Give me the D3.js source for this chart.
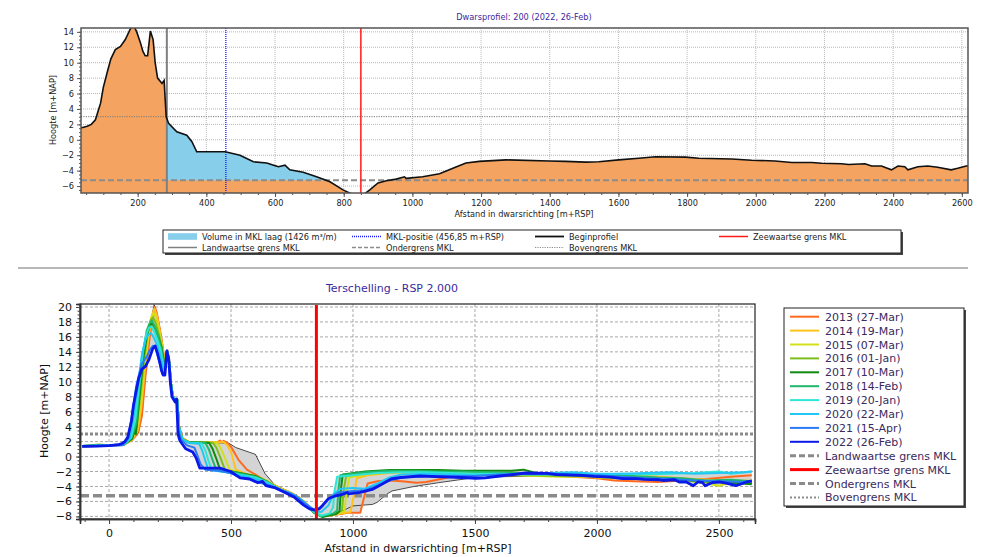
<!DOCTYPE html>
<html>
<head>
<meta charset="utf-8">
<script src="https://cdn.jsdelivr.net/npm/d3@7"></script>
<style>
body { margin: 0; background: #fff; }
svg { font-family: "DejaVu Sans", Verdana, sans-serif; }
</style>
</head>
<body>
<svg id="chart" width="986" height="557"></svg>
<script>
// ---- data ----
var titelBoven = "Dwarsprofiel: 200 (2022, 26-Feb)";
var titelOnder = "Terschelling - RSP 2.000";
var xTicksBoven = [200, 400, 600, 800, 1000, 1200, 1400, 1600, 1800, 2000, 2200, 2400, 2600];
var yTicksBoven = [-6, -4, -2, 0, 2, 4, 6, 8, 10, 12, 14];
var xTicksOnder = [0, 500, 1000, 1500, 2000, 2500];
var yTicksOnder = [-8, -6, -4, -2, 0, 2, 4, 6, 8, 10, 12, 14, 16, 18, 20];

var landwaartseGrens = 285;
var zeewaartseGrens = 850;
var mklPositie = 456.85;
var ondergrens = -5.25;
var bovengrens = 3;

var jaren = ["2013 (27-Mar)", "2014 (19-Mar)", "2015 (07-Mar)", "2016 (01-Jan)", "2017 (10-Mar)",
             "2018 (14-Feb)", "2019 (20-Jan)", "2020 (22-Mar)", "2021 (15-Apr)", "2022 (26-Feb)"];
var kleuren = ["#ff6a1f", "#ffc21a", "#d2e01a", "#7dbe1e", "#118a11",
               "#1fb86a", "#2ee6d6", "#22c8f5", "#2a7bf5", "#0a18e8"];

var profiel2013 = [[-110,1.35],[0,1.5],[60,1.55],[95,2.2],[120,3.2],[135,5.5],[150,11],[165,15.5],[178,18.5],[188,20.0],[196,19.2],[205,17.6],[215,15.8],[226,13.3],[232,13.4],[240,14.2],[248,12.5],[254,9.8],[262,8.0],[274,7.5],[280,7.6],[287,4.0],[300,2.5],[330,1.9],[440,1.85],[455,2.15],[462,1.9],[470,2.1],[485,1.8],[500,1.3],[530,-0.4],[565,-1.75],[600,-2.4],[640,-3.2],[700,-4.3],[750,-5.0],[800,-6.1],[840,-7.5],[875,-8.0],[920,-7.8],[980,-7.5],[1030,-7.5],[1045,-5.5],[1060,-3.6],[1100,-3.3],[1150,-3.2],[1200,-3.3],[1260,-3.5],[1300,-3.4],[1360,-3.0],[1400,-2.7],[1500,-2.5],[1600,-2.4],[1700,-2.4],[1800,-2.5],[1900,-2.7],[2000,-2.9],[2070,-3.2],[2150,-3.3],[2250,-3.4],[2350,-3.2],[2450,-3.0],[2550,-2.7],[2635,-2.5]];
var profiel2014 = [[-110,1.35],[0,1.5],[60,1.55],[95,2.3],[118,3.5],[132,6.5],[148,12],[162,16],[175,18.8],[186,19.8],[195,19.0],[205,17.3],[216,15.3],[226,13.0],[233,13.2],[240,14.1],[248,12.4],[254,9.8],[262,8.0],[274,7.5],[280,7.6],[287,4.0],[300,2.5],[330,1.9],[450,1.9],[470,1.95],[485,1.5],[500,0.6],[520,-1.75],[560,-2.3],[600,-2.6],[650,-3.3],[700,-4.2],[750,-4.9],[800,-6.0],[840,-7.4],[875,-8.0],[930,-7.7],[990,-7.4],[1005,-5.0],[1015,-2.9],[1060,-2.5],[1150,-2.2],[1250,-2.1],[1350,-2.2],[1450,-2.3],[1550,-2.4],[1650,-2.3],[1750,-2.4],[1850,-2.6],[1950,-2.5],[2050,-2.7],[2150,-2.5],[2250,-2.7],[2350,-2.9],[2450,-3.1],[2550,-3.3],[2635,-3.2]];
var profiel2015 = [[-110,1.4],[0,1.5],[60,1.6],[95,2.3],[115,3.8],[130,7],[146,12.5],[160,16.2],[172,18.5],[183,19.2],[193,18.5],[204,17],[216,15],[226,12.8],[233,13],[240,14.1],[248,12.4],[254,9.8],[262,8.0],[274,7.5],[280,7.6],[287,4.0],[300,2.4],[330,1.9],[440,1.85],[455,1.3],[470,0.2],[495,-1.75],[540,-2.2],[600,-2.7],[650,-3.3],[700,-4.4],[750,-5.0],[800,-6.1],[840,-7.5],[875,-8.0],[930,-7.7],[965,-7.3],[975,-4.5],[985,-2.8],[1050,-2.4],[1150,-2.1],[1250,-2.0],[1350,-2.1],[1450,-2.2],[1550,-2.5],[1650,-2.5],[1750,-2.6],[1850,-2.7],[1950,-2.7],[2050,-2.9],[2150,-2.8],[2250,-3.0],[2350,-3.1],[2450,-3.6],[2500,-3.9],[2550,-3.5],[2635,-3.3]];
var profiel2016 = [[-110,1.4],[-40,1.6],[0,1.5],[60,1.6],[95,2.4],[112,4],[128,8],[144,13],[158,16.5],[170,18.2],[180,18.6],[190,18.0],[203,16.5],[216,14.8],[226,12.6],[233,12.8],[240,14.0],[248,12.3],[254,9.8],[262,8.0],[274,7.5],[280,7.6],[287,4.0],[300,2.4],[330,1.9],[425,1.85],[440,1.2],[455,0.0],[475,-1.75],[530,-2.2],[600,-2.8],[650,-3.4],[700,-4.4],[750,-5.0],[800,-6.1],[840,-7.5],[875,-8.0],[930,-7.6],[955,-7.2],[962,-4.5],[972,-2.6],[1050,-2.2],[1150,-2.0],[1250,-1.9],[1350,-2.0],[1450,-2.0],[1550,-2.2],[1650,-2.3],[1750,-2.5],[1850,-2.6],[1950,-2.6],[2050,-2.8],[2150,-2.9],[2250,-3.0],[2350,-3.2],[2450,-3.4],[2550,-3.5],[2635,-3.4]];
var profiel2017 = [[-110,1.4],[0,1.5],[60,1.6],[95,2.4],[105,3.5],[110,3.0],[115,4.5],[126,8.5],[142,13.5],[156,16.3],[168,17.6],[178,17.8],[188,17.2],[202,16.0],[215,14.6],[226,12.5],[233,12.7],[240,14.0],[248,12.3],[254,9.8],[262,8.0],[274,7.5],[280,7.6],[287,4.0],[300,2.3],[330,1.9],[410,1.85],[425,1.0],[440,-0.3],[455,-1.75],[520,-2.1],[600,-2.6],[650,-3.4],[700,-4.4],[750,-5.0],[800,-6.1],[840,-7.5],[875,-8.1],[930,-7.7],[945,-7.3],[950,-4.5],[958,-2.4],[1050,-2.0],[1150,-1.8],[1250,-1.8],[1350,-1.8],[1450,-1.9],[1550,-1.9],[1650,-1.9],[1700,-1.75],[1750,-2.2],[1850,-2.4],[1950,-2.5],[2050,-2.6],[2150,-2.8],[2250,-3.0],[2350,-3.1],[2450,-3.3],[2550,-3.5],[2635,-3.7]];
var profiel2018 = [[-110,1.4],[0,1.5],[60,1.6],[92,2.5],[112,4.5],[124,8.8],[140,14],[154,16.8],[166,17.8],[176,18.2],[186,17.5],[200,16.2],[214,14.4],[225,12.3],[233,12.5],[240,14.0],[248,12.3],[254,9.8],[262,8.0],[274,7.5],[280,7.6],[287,4.0],[300,2.3],[330,1.9],[395,1.8],[410,0.9],[425,-0.5],[439,-1.75],[510,-2.1],[600,-2.7],[650,-3.4],[700,-4.4],[750,-5.0],[800,-6.1],[840,-7.5],[870,-8.0],[920,-7.6],[935,-7.2],[940,-4.5],[948,-2.5],[1050,-2.1],[1150,-1.9],[1250,-1.9],[1350,-2.0],[1450,-2.0],[1550,-2.1],[1650,-2.2],[1750,-2.3],[1850,-2.4],[1950,-2.5],[2050,-2.6],[2150,-2.6],[2250,-2.8],[2350,-2.9],[2450,-3.2],[2550,-3.1],[2635,-3.3]];
var profiel2019 = [[-110,1.4],[0,1.5],[60,1.6],[90,2.5],[108,5],[122,9],[138,14],[152,16.3],[164,17.2],[174,17.4],[184,16.8],[198,15.6],[212,14.2],[224,12.0],[232,12.2],[240,14.0],[248,12.3],[254,9.8],[262,8.0],[274,7.5],[280,7.6],[287,4.0],[300,2.3],[330,1.85],[380,1.75],[395,0.8],[408,-0.6],[421,-1.75],[500,-2.2],[600,-2.8],[650,-3.5],[700,-4.4],[750,-5.0],[800,-6.1],[840,-7.4],[870,-7.9],[905,-7.6],[918,-6.8],[925,-4.5],[935,-2.7],[1000,-2.5],[1100,-2.2],[1200,-2.1],[1300,-2.1],[1400,-2.2],[1500,-2.3],[1600,-2.3],[1700,-2.4],[1800,-2.4],[1900,-2.3],[2000,-2.4],[2100,-2.3],[2200,-2.4],[2300,-2.3],[2400,-2.2],[2500,-2.0],[2550,-2.3],[2635,-2.0]];
var profiel2020 = [[-110,1.4],[0,1.5],[60,1.55],[85,2.4],[102,5.5],[118,9.5],[134,13.5],[150,15.7],[162,16.3],[172,16.5],[182,16.0],[196,15.0],[210,13.6],[222,11.6],[231,11.8],[239,14.1],[247,12.5],[253,9.8],[261,8.0],[273,7.5],[279,7.6],[286,3.8],[300,2.3],[330,1.8],[370,1.7],[383,0.7],[395,-0.6],[407,-1.75],[480,-2.1],[550,-2.6],[600,-3.0],[650,-3.6],[700,-4.4],[750,-5.0],[800,-6.1],[840,-7.3],[870,-7.4],[900,-6.5],[920,-5.0],[950,-4.3],[1000,-4.2],[1050,-4.3],[1100,-3.6],[1150,-2.8],[1200,-2.4],[1300,-2.3],[1400,-2.4],[1500,-2.5],[1600,-2.4],[1700,-2.3],[1800,-2.2],[1900,-2.1],[2000,-2.3],[2100,-2.3],[2200,-2.2],[2300,-2.1],[2400,-2.3],[2500,-2.2],[2600,-2.1],[2635,-2.0]];
var profiel2021 = [[-110,1.35],[0,1.45],[55,1.5],[78,2.4],[94,5.5],[112,9.5],[134,12.4],[152,13.2],[168,14.3],[180,14.8],[190,14.6],[205,12.8],[219,11.0],[228,11.1],[237,14.2],[245,13.0],[251,10.0],[259,8.0],[271,7.4],[277,7.6],[284,3.5],[295,2.3],[320,1.5],[350,1.2],[362,0.2],[375,-1.0],[395,-1.75],[450,-1.9],[500,-2.2],[540,-2.8],[580,-3.0],[620,-3.5],[660,-3.9],[700,-4.4],[740,-4.9],[770,-5.4],[800,-6.2],[840,-7.1],[870,-6.8],[900,-5.7],[940,-4.8],[1000,-4.6],[1050,-4.5],[1100,-3.9],[1150,-3.2],[1200,-2.8],[1300,-2.6],[1400,-2.6],[1500,-2.6],[1600,-2.4],[1700,-2.3],[1800,-2.3],[1900,-2.5],[2000,-2.5],[2100,-2.7],[2200,-2.9],[2300,-3.0],[2400,-3.2],[2500,-3.3],[2600,-3.4],[2635,-3.2]];
var profiel2022 = [[-110,1.35],[-50,1.4],[0,1.45],[40,1.6],[53,1.75],[65,2.0],[77,2.6],[92,4.75],[100,6.8],[111,8.7],[122,10.5],[135,11.7],[150,12.1],[164,13.0],[179,14.4],[189,14.8],[198,13.9],[208,12.6],[215,11.5],[222,10.9],[229,10.9],[237,14.1],[245,13.0],[251,10.0],[258,8.0],[271,7.3],[277,7.7],[283,3.0],[290,2.15],[314,1.05],[343,0.6],[358,-0.25],[372,-1.55],[455,-1.55],[498,-2.0],[537,-2.85],[576,-3.0],[596,-3.3],[610,-3.5],[629,-3.3],[643,-3.9],[682,-4.2],[721,-4.8],[760,-5.45],[798,-6.5],[822,-7.0],[845,-7.15],[861,-7.0],[876,-6.5],[900,-5.6],[924,-5.3],[953,-5.1],[977,-4.8],[982,-5.0],[1030,-4.8],[1079,-4.4],[1118,-3.7],[1156,-3.0],[1195,-2.8],[1273,-2.6],[1398,-2.75],[1446,-2.8],[1505,-2.9],[1543,-2.85],[1601,-2.6],[1659,-2.4],[1708,-2.2],[1795,-2.25],[1834,-2.4],[1930,-2.5],[1988,-2.65],[2056,-2.75],[2105,-2.95],[2163,-2.95],[2192,-3.05],[2250,-3.1],[2270,-3.2],[2318,-3.1],[2337,-3.4],[2366,-3.4],[2395,-3.9],[2414,-3.4],[2434,-3.5],[2443,-3.9],[2472,-3.5],[2501,-3.4],[2530,-3.55],[2569,-3.9],[2588,-3.7],[2613,-3.4],[2635,-3.3]];
var referentie = [[-110,1.4],[0,1.5],[60,1.6],[95,2.2],[120,3.2],[135,5.5],[150,11],[165,15.8],[177,19],[185,20.3],[195,19.3],[205,17.8],[215,15.8],[226,13.4],[240,14.2],[248,12.5],[254,9.8],[262,8.0],[274,7.5],[280,7.6],[287,4.0],[300,2.5],[330,1.9],[490,1.8],[520,1.2],[600,0.3],[620,-1.0],[640,-2.3],[680,-3.8],[740,-4.7],[780,-5.4],[820,-6.6],[860,-7.8],[890,-8.0],[940,-7.6],[980,-6.9],[1000,-6.6],[1040,-6.5],[1080,-6.4],[1100,-6.1],[1140,-5.0],[1160,-4.6],[1250,-4.0],[1350,-3.5],[1480,-2.9],[1600,-2.7],[1800,-2.6],[2000,-2.8],[2200,-3.0],[2400,-3.3],[2600,-3.6],[2635,-3.6]];

var profielen = [profiel2013, profiel2014, profiel2015, profiel2016, profiel2017,
                 profiel2018, profiel2019, profiel2020, profiel2021, profiel2022];

var svg = d3.select("#chart");
var tekstKleur = "#3c2aa0";
var fmt = d3.format("d");

// ================= top chart =================
var tb = {left: 81, right: 968, top: 28, bottom: 193};
var xT = d3.scaleLinear().domain([35, 2618]).range([tb.left, tb.right]);
var yT = d3.scaleLinear().domain([-6.9, 14.5]).range([tb.bottom, tb.top]);

svg.append("text").attr("x", 524).attr("y", 20).attr("text-anchor", "middle")
  .attr("fill", tekstKleur).style("font-size", "8.2px").text(titelBoven);

var defs = svg.append("defs");
defs.append("clipPath").attr("id", "clipT").append("rect")
  .attr("x", tb.left).attr("y", tb.top).attr("width", tb.right - tb.left).attr("height", tb.bottom - tb.top);
defs.append("clipPath").attr("id", "clipMKL").append("rect")
  .attr("x", xT(landwaartseGrens)).attr("y", tb.top)
  .attr("width", xT(zeewaartseGrens) - xT(landwaartseGrens)).attr("height", tb.bottom - tb.top);

var gT = svg.append("g");
// grid
gT.selectAll(".gx").data(xTicksBoven).join("line")
  .attr("x1", d => xT(d)).attr("x2", d => xT(d)).attr("y1", tb.top).attr("y2", tb.bottom)
  .attr("stroke", "#b8b8b8").attr("stroke-dasharray", "1,1");
gT.selectAll(".gy").data(yTicksBoven).join("line")
  .attr("x1", tb.left).attr("x2", tb.right).attr("y1", d => yT(d)).attr("y2", d => yT(d))
  .attr("stroke", "#b8b8b8").attr("stroke-dasharray", "1,1");

var plotT = gT.append("g").attr("clip-path", "url(#clipT)");
plotT.append("path").datum(profiel2022)
  .attr("fill", "#f4a460")
  .attr("d", d3.area().x(d => xT(d[0])).y0(tb.bottom).y1(d => yT(d[1])));
plotT.append("g").attr("clip-path", "url(#clipMKL)").append("path").datum(profiel2022)
  .attr("fill", "#87ceeb")
  .attr("d", d3.area().x(d => xT(d[0])).y0(yT(ondergrens)).y1(d => yT(Math.max(d[1], ondergrens))));
plotT.append("line").attr("x1", tb.left).attr("x2", tb.right)
  .attr("y1", yT(bovengrens)).attr("y2", yT(bovengrens))
  .attr("stroke", "#7a7a7a").attr("stroke-width", 1).attr("stroke-dasharray", "1.2,1.2");
plotT.append("line").attr("x1", tb.left).attr("x2", tb.right)
  .attr("y1", yT(ondergrens)).attr("y2", yT(ondergrens))
  .attr("stroke", "#8c8c8c").attr("stroke-width", 2).attr("stroke-dasharray", "6,3");
plotT.append("line").attr("x1", xT(landwaartseGrens)).attr("x2", xT(landwaartseGrens))
  .attr("y1", tb.top).attr("y2", tb.bottom).attr("stroke", "#808080").attr("stroke-width", 2);
plotT.append("line").attr("x1", xT(mklPositie)).attr("x2", xT(mklPositie))
  .attr("y1", tb.top).attr("y2", tb.bottom).attr("stroke", "#1a1aff").attr("stroke-width", 1.3)
  .attr("stroke-dasharray", "1,1");
plotT.append("path").datum(profiel2022)
  .attr("fill", "none").attr("stroke", "#111").attr("stroke-width", 1.6)
  .attr("d", d3.line().x(d => xT(d[0])).y(d => yT(d[1])));
plotT.append("line").attr("x1", xT(zeewaartseGrens)).attr("x2", xT(zeewaartseGrens))
  .attr("y1", tb.top).attr("y2", tb.bottom).attr("stroke", "#ff1a1a").attr("stroke-width", 1.5);

gT.append("rect").attr("x", tb.left).attr("y", tb.top)
  .attr("width", tb.right - tb.left).attr("height", tb.bottom - tb.top)
  .attr("fill", "none").attr("stroke", "#555").attr("stroke-width", 1.5);

// axes
var axT = gT.append("g").attr("transform", "translate(0," + tb.bottom + ")")
  .call(d3.axisBottom(xT).tickValues(xTicksBoven).tickFormat(fmt).tickSize(4).tickPadding(3));
var axTm = gT.append("g").attr("transform", "translate(0," + tb.bottom + ")")
  .call(d3.axisBottom(xT).tickValues(d3.range(50, 2618, 50)).tickSize(2).tickFormat(""));
var ayT = gT.append("g").attr("transform", "translate(" + tb.left + ",0)")
  .call(d3.axisLeft(yT).tickValues(yTicksBoven).tickFormat(fmt).tickSize(4).tickPadding(3));
var ayTm = gT.append("g").attr("transform", "translate(" + tb.left + ",0)")
  .call(d3.axisLeft(yT).tickValues(d3.range(-6.5, 14.5, 0.5)).tickSize(2).tickFormat(""));
[axT, axTm, ayT, ayTm].forEach(function(a) {
  a.select(".domain").remove();
  a.selectAll("line").attr("stroke", "#555");
  a.selectAll("text").style("font-size", "8.2px").style("font-family", "DejaVu Sans").attr("fill", "#222");
});

svg.append("text").attr("x", 524).attr("y", 217).attr("text-anchor", "middle")
  .style("font-size", "8.2px").attr("fill", "#222").text("Afstand in dwarsrichting [m+RSP]");
svg.append("text").attr("transform", "translate(56,110) rotate(-90)").attr("text-anchor", "middle")
  .style("font-size", "8.2px").attr("fill", "#222").text("Hoogte [m+NAP]");

// top legend
var lgT = svg.append("g");
lgT.append("rect").attr("x", 165).attr("y", 232).attr("width", 738).attr("height", 23).attr("fill", "#444");
lgT.append("rect").attr("x", 163).attr("y", 230).attr("width", 738).attr("height", 23)
  .attr("fill", "#fff").attr("stroke", "#222");
var legItemsT = [
  {t: "Volume in MKL laag (1426 m\u00b3/m)", c: 0, r: 0, type: "fill", color: "#87ceeb"},
  {t: "MKL-positie (456,85 m+RSP)", c: 1, r: 0, color: "#1a1aff", w: 1.3, dash: "1,1"},
  {t: "Beginprofiel", c: 2, r: 0, color: "#111", w: 1.8},
  {t: "Zeewaartse grens MKL", c: 3, r: 0, color: "#ff1a1a", w: 1.5},
  {t: "Landwaartse grens MKL", c: 0, r: 1, color: "#808080", w: 1.5},
  {t: "Ondergrens MKL", c: 1, r: 1, color: "#8c8c8c", w: 1.5, dash: "4,2"},
  {t: "Bovengrens MKL", c: 2, r: 1, color: "#8c8c8c", w: 1, dash: "1.2,1.2"}
];
var colX = [168, 352, 535, 719];
legItemsT.forEach(function(it) {
  var x0 = colX[it.c], yy = 236.5 + it.r * 11;
  if (it.type === "fill") {
    lgT.append("rect").attr("x", x0).attr("y", yy - 3.3).attr("width", 29).attr("height", 6.6).attr("fill", it.color);
  } else {
    lgT.append("line").attr("x1", x0).attr("x2", x0 + 29).attr("y1", yy).attr("y2", yy)
      .attr("stroke", it.color).attr("stroke-width", it.w).attr("stroke-dasharray", it.dash || null);
  }
  lgT.append("text").attr("x", x0 + 34).attr("y", yy + 3).style("font-size", "8.2px")
    .attr("fill", "#222").text(it.t);
});

// separator
svg.append("line").attr("x1", 18).attr("x2", 968).attr("y1", 268).attr("y2", 268)
  .attr("stroke", "#a0a0a0").attr("stroke-width", 1.5);

// ================= bottom chart =================
var bb = {left: 80, right: 755, top: 304, bottom: 519};
var xB = d3.scaleLinear().domain([-119, 2648]).range([bb.left, bb.right]);
var yB = d3.scaleLinear().domain([-8.35, 20.4]).range([bb.bottom, bb.top]);

svg.append("text").attr("x", 392).attr("y", 292).attr("text-anchor", "middle")
  .attr("fill", tekstKleur).style("font-size", "11px").text(titelOnder);

defs.append("clipPath").attr("id", "clipB").append("rect")
  .attr("x", bb.left).attr("y", bb.top).attr("width", bb.right - bb.left).attr("height", bb.bottom - bb.top);

var gB = svg.append("g");
gB.selectAll(".gx").data(xTicksOnder).join("line")
  .attr("x1", d => xB(d)).attr("x2", d => xB(d)).attr("y1", bb.top).attr("y2", bb.bottom)
  .attr("stroke", "#a8a8a8").attr("stroke-dasharray", "3,2");
gB.selectAll(".gy").data(yTicksOnder).join("line")
  .attr("x1", bb.left).attr("x2", bb.right).attr("y1", d => yB(d)).attr("y2", d => yB(d))
  .attr("stroke", "#a8a8a8").attr("stroke-dasharray", "3,2");

var plotB = gB.append("g").attr("clip-path", "url(#clipB)");

// grey band: envelope of all profiles
var alle = profielen.concat([referentie]);
var interp = alle.map(function(p) {
  return d3.scaleLinear().domain(p.map(d => d[0])).range(p.map(d => d[1])).clamp(true);
});
var band = d3.range(-110, 2636, 2).map(function(x) {
  var v = interp.map(f => f(x));
  return [x, d3.min(v), d3.max(v)];
});
plotB.append("path").datum(band).attr("fill", "#d4d4d4")
  .attr("d", d3.area().x(d => xB(d[0])).y0(d => yB(d[1])).y1(d => yB(d[2])));
plotB.append("path").datum(referentie).attr("fill", "none").attr("stroke", "#222").attr("stroke-width", 0.8)
  .attr("d", d3.line().x(d => xB(d[0])).y(d => yB(d[1])));

plotB.append("line").attr("x1", bb.left).attr("x2", bb.right)
  .attr("y1", yB(bovengrens)).attr("y2", yB(bovengrens))
  .attr("stroke", "#8a8a8a").attr("stroke-width", 3).attr("stroke-dasharray", "3,2");
plotB.append("line").attr("x1", bb.left).attr("x2", bb.right)
  .attr("y1", yB(ondergrens)).attr("y2", yB(ondergrens))
  .attr("stroke", "#8a8a8a").attr("stroke-width", 3.5).attr("stroke-dasharray", "9,4");

var lijn = d3.line().x(d => xB(d[0])).y(d => yB(d[1]));
plotB.selectAll(".prof").data(profielen).join("path")
  .attr("fill", "none")
  .attr("stroke", (d, i) => kleuren[i])
  .attr("stroke-width", (d, i) => i === 9 ? 2.8 : 2)
  .attr("stroke-linejoin", "round")
  .attr("d", lijn);

plotB.append("line").attr("x1", xB(zeewaartseGrens)).attr("x2", xB(zeewaartseGrens))
  .attr("y1", bb.top + 1).attr("y2", bb.bottom).attr("stroke", "#ff0000").attr("stroke-width", 3);

gB.append("rect").attr("x", bb.left).attr("y", bb.top)
  .attr("width", bb.right - bb.left).attr("height", bb.bottom - bb.top)
  .attr("fill", "none").attr("stroke", "#222").attr("stroke-width", 1.2);

var axB = gB.append("g").attr("transform", "translate(0," + bb.bottom + ")")
  .call(d3.axisBottom(xB).tickValues(xTicksOnder).tickFormat(fmt).tickSize(5).tickPadding(5));
var axBm = gB.append("g").attr("transform", "translate(0," + bb.bottom + ")")
  .call(d3.axisBottom(xB).tickValues(d3.range(-100, 2648, 100)).tickSize(3).tickFormat(""));
var ayB = gB.append("g").attr("transform", "translate(" + bb.left + ",0)")
  .call(d3.axisLeft(yB).tickValues(yTicksOnder).tickFormat(fmt).tickSize(4).tickPadding(4));
var ayBm = gB.append("g").attr("transform", "translate(" + bb.left + ",0)")
  .call(d3.axisLeft(yB).tickValues(d3.range(-8, 20.4, 0.5)).tickSize(2.5).tickFormat(""));
[axB, axBm, ayB, ayBm].forEach(function(a) {
  a.select(".domain").attr("stroke", "#333").attr("stroke-width", 1.5);
  a.selectAll("line").attr("stroke", "#444");
  a.selectAll("text").style("font-size", "11px").style("font-family", "DejaVu Sans").attr("fill", "#111");
});

svg.append("text").attr("x", 418).attr("y", 552).attr("text-anchor", "middle")
  .style("font-size", "11px").attr("fill", "#111").text("Afstand in dwarsrichting [m+RSP]");
svg.append("text").attr("transform", "translate(48,411) rotate(-90)").attr("text-anchor", "middle")
  .style("font-size", "11px").attr("fill", "#111").text("Hoogte [m+NAP]");

// bottom legend
var lgB = svg.append("g");
lgB.append("rect").attr("x", 786).attr("y", 310).attr("width", 180).attr("height", 198).attr("fill", "#444");
lgB.append("rect").attr("x", 784).attr("y", 308).attr("width", 180).attr("height", 198)
  .attr("fill", "#fff").attr("stroke", "#222");
var legItemsB = jaren.map(function(t, i) { return {t: t, color: kleuren[i], w: 2}; }).concat([
  {t: "Landwaartse grens MKL", color: "#8a8a8a", w: 3, dash: "6,3"},
  {t: "Zeewaartse grens MKL", color: "#ff0000", w: 3},
  {t: "Ondergrens MKL", color: "#8a8a8a", w: 3, dash: "6,3"},
  {t: "Bovengrens MKL", color: "#8a8a8a", w: 2, dash: "2,2"}
]);
legItemsB.forEach(function(it, i) {
  var yy = 316.7 + i * 13.9;
  lgB.append("line").attr("x1", 790).attr("x2", 819).attr("y1", yy).attr("y2", yy)
    .attr("stroke", it.color).attr("stroke-width", it.w).attr("stroke-dasharray", it.dash || null);
  lgB.append("text").attr("x", 825).attr("y", yy + 4).style("font-size", "11px")
    .attr("fill", "#3a2a60").text(it.t);
});
</script>
</body>
</html>
